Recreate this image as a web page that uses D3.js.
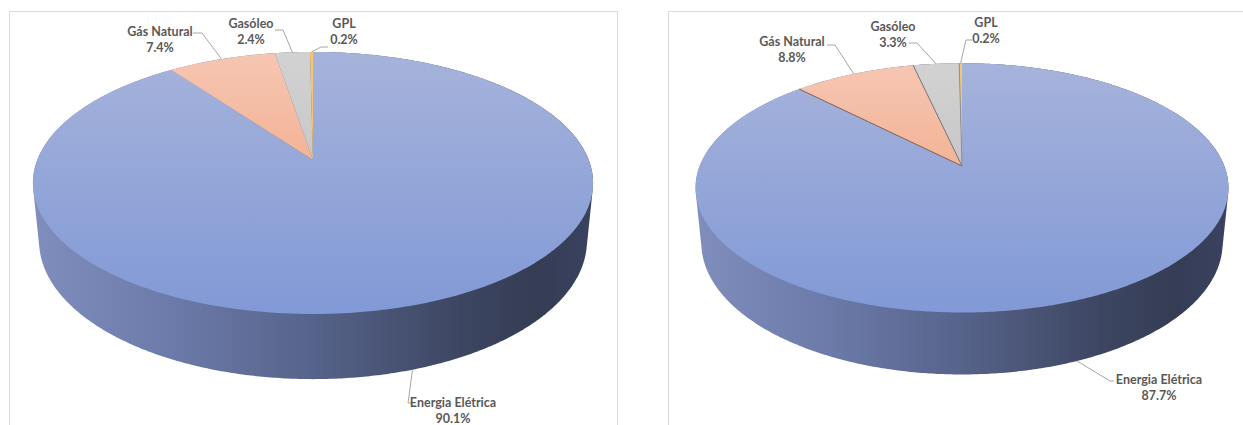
<!DOCTYPE html>
<html>
<head>
<meta charset="utf-8">
<script src="https://cdn.jsdelivr.net/npm/d3@7"></script>
<style>
  body { margin: 0; background: #ffffff; }
  svg { display: block; }
</style>
</head>
<body>
<svg id="chart" width="1243" height="425"></svg>
<script>
// ---- data -------------------------------------------------------------
const categories = ["Energia Elétrica", "Gás Natural", "Gasóleo", "GPL"];
const valuesLeft = [90.1, 7.4, 2.4, 0.2];
const valuesRight = [87.7, 8.8, 3.3, 0.2];

// ---- styling ----------------------------------------------------------
const topColors = {
  "Energia Elétrica": ["#a6b3db", "#8199d6"],
  "Gás Natural": ["#f6c6b3", "#ee9a6c"],
  "Gasóleo": ["#d2d2d2", "#b9b9b9"],
  "GPL": ["#f6c874", "#efb453"]
};
const sideStops = [
  [0, "#7f8ebd"], [0.25, "#6c7aa9"], [0.5, "#56638a"],
  [0.75, "#3e4763"], [0.9, "#353c54"], [1, "#3a4260"]
];
const textColor = "#595959";
const leaderColor = "#a6a6a6";
const font = "Lato, 'Open Sans', sans-serif";

// 3-D view shared by both pies
const sinE = 0.4607, cosE = Math.sqrt(1 - sinE * sinE);
const camDist = 5.07;
const depthH = 0.239;

const panels = [
  {
    id: "a", values: valuesLeft, cx: 313, cy: 160, F: 1398, edges: false,
    frame: { x: 9.5, y: 11.5, w: 608, h: 500 },
    labels: [
      { tx: 453, ty: 407, path: [[408, 403], [411, 403]] },
      { tx: 160, ty: 36, path: [[202, 33], [193, 33]] },
      { tx: 251, ty: 28, path: [[283, 30], [275, 30]] },
      { tx: 344, ty: 28, path: [[321, 47], [328, 47]] }
    ]
  },
  {
    id: "b", values: valuesRight, cx: 962, cy: 166, F: 1330, edges: true,
    frame: { x: 668.5, y: 11.5, w: 600, h: 500 },
    labels: [
      { tx: 1159, ty: 384, path: [[1110, 381], [1114, 381]] },
      { tx: 792, ty: 46, path: [[835, 45], [827, 45]] },
      { tx: 893, ty: 31, path: [[917, 43], [909, 43]] },
      { tx: 986, ty: 27, path: [[966, 40], [972, 40]] }
    ]
  }
];

const svg = d3.select("#chart");
const defs = svg.append("defs");

function projector(cx, cy, F) {
  return (a, r, z) => {
    const x = r * Math.sin(a), y = r * Math.cos(a);
    const d = camDist + y * cosE - z * sinE;
    return [cx + F * x / d, cy - F * (y * sinE + z * cosE) / d];
  };
}

const pie = d3.pie().sort(null).value(d => d.value)
  .startAngle(0).endAngle(2 * Math.PI);
const line = d3.line();

panels.forEach(p => {
  const proj = projector(p.cx, p.cy, p.F);
  const g = svg.append("g");

  g.append("rect")
    .attr("x", p.frame.x).attr("y", p.frame.y)
    .attr("width", p.frame.w).attr("height", p.frame.h)
    .attr("fill", "none").attr("stroke", "#d9d9d9").attr("stroke-width", 1);

  const N = 720;
  const topRim = d3.range(N).map(i => proj(2 * Math.PI * i / N, 1, 0));
  const botRim = d3.range(N).map(i => proj(2 * Math.PI * i / N, 1, -depthH));
  const xs = d3.extent(topRim.concat(botRim), d => d[0]);
  const ys = d3.extent(topRim, d => d[1]);

  // side wall gradient (left lit, right in shadow)
  const sg = defs.append("linearGradient").attr("id", "side-" + p.id)
    .attr("gradientUnits", "userSpaceOnUse")
    .attr("x1", xs[0]).attr("x2", xs[1]).attr("y1", 0).attr("y2", 0);
  sideStops.forEach(s => sg.append("stop").attr("offset", s[0]).attr("stop-color", s[1]));

  // top face gradients
  categories.forEach((c, i) => {
    const tg = defs.append("linearGradient").attr("id", `top-${p.id}-${i}`)
      .attr("gradientUnits", "userSpaceOnUse")
      .attr("x1", 0).attr("x2", 0).attr("y1", ys[0]).attr("y2", ys[1]);
    tg.append("stop").attr("offset", 0).attr("stop-color", topColors[c][0]);
    tg.append("stop").attr("offset", 1).attr("stop-color", topColors[c][1]);
  });

  // outer wall: silhouette of the whole cylinder
  const hull = d3.polygonHull(topRim.concat(botRim));
  g.append("path").attr("d", line(hull) + "Z").attr("fill", `url(#side-${p.id})`);

  const arcs = pie(categories.map((c, i) => ({ name: c, value: p.values[i], i })));

  // top faces
  arcs.forEach(a => {
    const steps = Math.max(2, Math.ceil((a.endAngle - a.startAngle) / (Math.PI / 360)));
    const pts = [proj(0, 0, 0)];
    for (let k = 0; k <= steps; k++) {
      pts.push(proj(a.startAngle + (a.endAngle - a.startAngle) * k / steps, 1, 0));
    }
    g.append("path").attr("d", line(pts) + "Z")
      .attr("fill", `url(#top-${p.id}-${a.data.i})`);
  });

  // radial slice borders
  if (p.edges) {
    const edgeColors = ["#7b5a4c", "#6f6f6f", "#8a8a8a"];
    arcs.slice(1).forEach((a, j) => {
      g.append("path")
        .attr("d", line([proj(0, 0, 0), proj(a.startAngle, 1, 0)]))
        .attr("stroke", edgeColors[j]).attr("stroke-width", 0.9).attr("fill", "none");
    });
  }

  // labels with leader lines
  arcs.forEach(a => {
    const lab = p.labels[a.data.i];
    const mid = (a.startAngle + a.endAngle) / 2;
    const front = Math.cos(mid) < 0;
    const anchor = proj(mid, 1, front ? -depthH : 0);
    g.append("path").attr("d", line([anchor].concat(lab.path)))
      .attr("fill", "none").attr("stroke", leaderColor).attr("stroke-width", 1);

    const t = g.append("text")
      .attr("x", lab.tx).attr("y", lab.ty)
      .attr("text-anchor", "middle")
      .attr("font-family", font).attr("font-weight", 700)
      .attr("font-size", 12.5).attr("fill", textColor);
    t.append("tspan").attr("x", lab.tx).text(a.data.name);
    t.append("tspan").attr("x", lab.tx).attr("dy", 15.5)
      .text(d3.format(".1f")(a.data.value) + "%");
  });
});
</script>
</body>
</html>
